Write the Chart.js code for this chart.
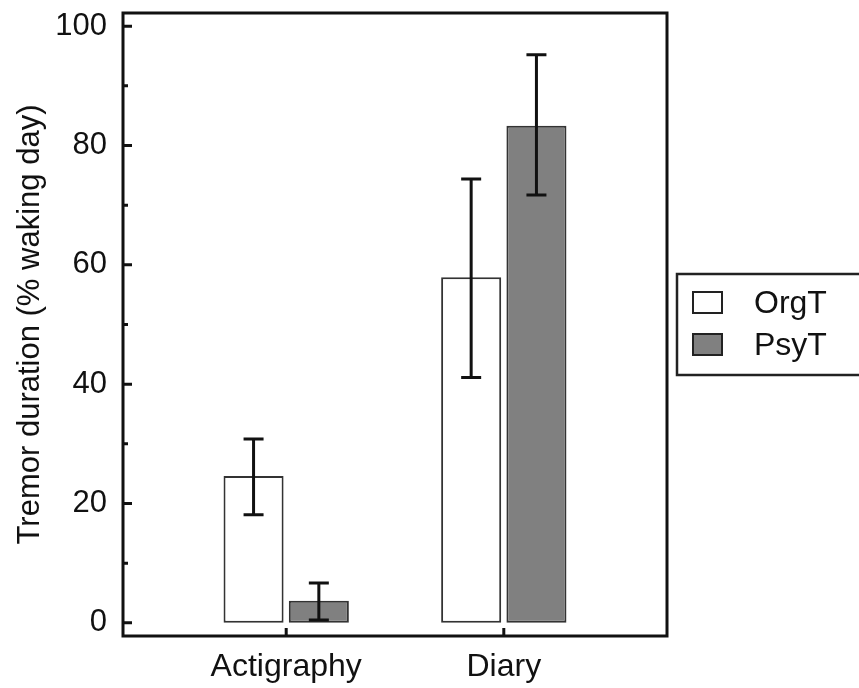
<!DOCTYPE html>
<html>
<head>
<meta charset="utf-8">
<script src="https://cdn.jsdelivr.net/npm/chart.js@4.4.1/dist/chart.umd.min.js"></script>
<style>
  body { margin: 0; background: #fff; }
  #wrap { width: 859px; height: 688px; }
</style>
</head>
<body>
<div id="wrap"><canvas id="myChart" width="859" height="688"></canvas></div>
<script>
// data
const categories = ["Actigraphy", "Diary"];
const orgT = [24.6, 57.9];
const orgTLow = [18.1, 41.1];
const orgTHigh = [30.8, 74.4];
const psyT = [3.7, 83.3];
const psyTLow = [0.5, 71.7];
const psyTHigh = [6.7, 95.2];
const yTicks = [0, 20, 40, 60, 80, 100];

const FONT = "'Liberation Sans', Arial, sans-serif";

// error bars drawn with the chart's own scales
const errorBars = {
  id: "errorBars",
  afterDatasetsDraw(chart) {
    const ctx = chart.ctx;
    const y = chart.scales.y;
    chart.data.datasets.forEach((ds, di) => {
      const meta = chart.getDatasetMeta(di);
      meta.data.forEach((bar, i) => {
        const top = y.getPixelForValue(ds.high[i]);
        const bot = y.getPixelForValue(ds.low[i]);
        ctx.save();
        ctx.strokeStyle = "#111";
        ctx.lineWidth = 3;
        ctx.beginPath();
        ctx.moveTo(bar.x, top); ctx.lineTo(bar.x, bot);
        ctx.moveTo(bar.x - 10, top); ctx.lineTo(bar.x + 10, top);
        ctx.moveTo(bar.x - 10, bot); ctx.lineTo(bar.x + 10, bot);
        ctx.stroke();
        ctx.restore();
      });
    });
  }
};

// frame + inward ticks + legend box
const frame = {
  id: "frame",
  afterDraw(chart) {
    const ctx = chart.ctx;
    const a = chart.chartArea;
    const y = chart.scales.y;
    const x = chart.scales.x;
    ctx.save();
    ctx.strokeStyle = "#111";
    ctx.lineWidth = 3;
    ctx.strokeRect(a.left, a.top, a.right - a.left, a.bottom - a.top);
    ctx.beginPath();
    yTicks.forEach((v, i) => {
      const py = y.getPixelForValue(v);
      ctx.moveTo(a.left, py); ctx.lineTo(a.left + 9, py);
      if (i < yTicks.length - 1) {
        const pm = y.getPixelForValue((v + yTicks[i + 1]) / 2);
        ctx.moveTo(a.left, pm); ctx.lineTo(a.left + 5, pm);
      }
    });
    categories.forEach((c, i) => {
      const px = x.getPixelForValue(i);
      ctx.moveTo(px, a.bottom); ctx.lineTo(px, a.bottom - 8);
    });
    ctx.stroke();

    // legend
    ctx.lineWidth = 2.5;
    ctx.strokeStyle = "#222";
    ctx.strokeRect(677, 274, 200, 101);
    ctx.font = "32px " + FONT;
    ctx.textBaseline = "middle";
    chart.data.datasets.forEach((ds, i) => {
      const top = 292 + i * 42;
      ctx.fillStyle = ds.backgroundColor;
      ctx.fillRect(693, top, 29, 21);
      ctx.lineWidth = 2;
      ctx.strokeStyle = "#222";
      ctx.strokeRect(693, top, 29, 21);
      ctx.fillStyle = "#111";
      ctx.fillText(ds.label, 754, top + 12);
    });
    ctx.restore();
  }
};

const ctx = document.getElementById("myChart").getContext("2d");
const myChart = new Chart(ctx, {
  type: "bar",
  data: {
    datasets: [
      {
        label: "OrgT",
        data: orgT.map((v, i) => ({ x: i, y: v })),
        low: orgTLow,
        high: orgTHigh,
        backgroundColor: "#ffffff",
        borderColor: "#333333",
        borderWidth: 2,
        borderSkipped: false
      },
      {
        label: "PsyT",
        data: psyT.map((v, i) => ({ x: i, y: v })),
        low: psyTLow,
        high: psyTHigh,
        backgroundColor: "#808080",
        borderColor: "#333333",
        borderWidth: 2,
        borderSkipped: false
      }
    ]
  },
  options: {
    responsive: false,
    animation: false,
    categoryPercentage: 0.6,
    barPercentage: 0.92,
    layout: { padding: { top: 13, right: 192, left: 0, bottom: 0 } },
    plugins: { legend: { display: false }, tooltip: { enabled: false } },
    scales: {
      x: {
        type: "linear",
        offset: false,
        min: -0.75,
        max: 1.75,
        grid: { display: false, drawTicks: false },
        border: { display: false },
        afterBuildTicks: axis => { axis.ticks = categories.map((c, i) => ({ value: i })); },
        afterFit: axis => { axis.height = 52; axis.paddingLeft = 0; axis.paddingRight = 0; },
        ticks: {
          padding: 12,
          color: "#111",
          font: { family: FONT, size: 32 },
          callback: v => categories[v]
        }
      },
      y: {
        min: -2.2,
        max: 102.2,
        grid: { display: false, drawTicks: false },
        border: { display: false },
        afterBuildTicks: axis => { axis.ticks = yTicks.map(v => ({ value: v })); },
        afterFit: axis => { axis.width = 123; axis.paddingTop = 0; axis.paddingBottom = 0; },
        ticks: {
          padding: 16,
          color: "#111",
          font: { family: FONT, size: 31 }
        },
        title: {
          display: true,
          text: "Tremor duration (% waking day)",
          color: "#111",
          font: { family: FONT, size: 31 },
          padding: { top: 12, bottom: 0 }
        }
      }
    }
  },
  plugins: [errorBars, frame]
});
</script>
</body>
</html>
